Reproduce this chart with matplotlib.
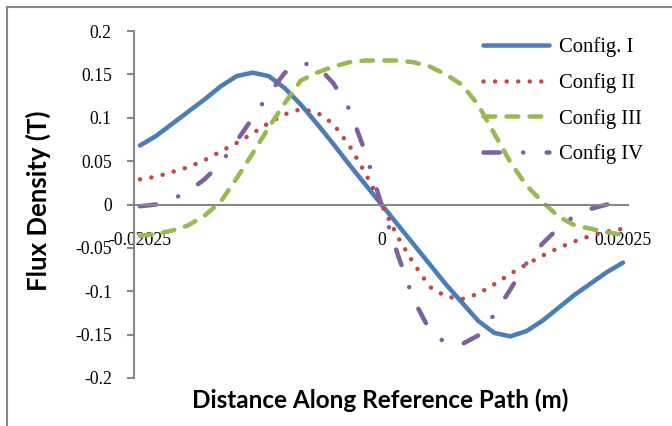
import matplotlib.pyplot as plt
from matplotlib.lines import Line2D

# distance along the reference path (m)
dist = [-0.02025, -0.0189, -0.01755, -0.0162, -0.01485, -0.0135, -0.01215,
        -0.0108, -0.00945, -0.0081, -0.00675, -0.0054, -0.00405, -0.0027,
        -0.00135, 0.0, 0.00135, 0.0027, 0.00405, 0.0054, 0.00675, 0.0081,
        0.00945, 0.0108, 0.01215, 0.0135, 0.01485, 0.0162, 0.01755, 0.0189,
        0.02025]

# flux density (T) for each configuration
cfg1 = [0.068, 0.079, 0.093, 0.107, 0.121, 0.136, 0.148, 0.152, 0.148, 0.134,
        0.115, 0.093, 0.070, 0.046, 0.023, 0.000, -0.023, -0.046, -0.069,
        -0.092, -0.113, -0.134, -0.148, -0.152, -0.146, -0.134, -0.119,
        -0.104, -0.091, -0.078, -0.067]
cfg2 = [0.029, 0.032, 0.0375, 0.043, 0.051, 0.061, 0.071, 0.082, 0.094, 0.104,
        0.110, 0.106, 0.093, 0.068, 0.036, 0.000, -0.037, -0.068, -0.095,
        -0.106, -0.109, -0.103, -0.092, -0.080, -0.069, -0.059, -0.050,
        -0.0425, -0.036, -0.031, -0.028]
cfg3 = [-0.036, -0.034, -0.030, -0.024, -0.013, 0.003, 0.030, 0.059, 0.089,
        0.117, 0.143, 0.152, 0.159, 0.164, 0.166, 0.166, 0.166, 0.164, 0.159,
        0.150, 0.138, 0.115, 0.082, 0.049, 0.022, 0.003, -0.014, -0.024,
        -0.028, -0.032, -0.035]
cfg4 = [-0.002, 0.000, 0.006, 0.015, 0.029, 0.047, 0.073, 0.100, 0.127, 0.152,
        0.163, 0.160, 0.140, 0.110, 0.060, 0.000, -0.057, -0.110, -0.145,
        -0.160, -0.161, -0.151, -0.127, -0.098, -0.068, -0.045, -0.027,
        -0.013, -0.005, 0.000, 0.001]

names = ['Config. I', 'Config II', 'Config III', 'Config IV']

yticks = [-0.2, -0.15, -0.1, -0.05, 0, 0.05, 0.1, 0.15, 0.2]
ytick_labels = ['-0.2', '-0.15', '-0.1', '-0.05', '0', '0.05', '0.1', '0.15', '0.2']
xticks = [-0.02025, 0, 0.02025]
xtick_labels = ['-0.02025', '0', '0.02025']

serif = 'Liberation Serif'
axis_gray = '#888888'

fig = plt.figure(figsize=(6.72, 4.26), dpi=100)
ax = fig.add_axes([134 / 672, 1 - 378 / 426, (628 - 134) / 672, (378 - 31) / 426])

lw = 3.25
styles = [
    dict(color='#4A7EBB', linestyle='-'),
    dict(color='#BE4B48', dashes=(0.01, 2.55)),
    dict(color='#98B954', dashes=(2.6, 2.5)),
    dict(color='#7D60A0', dashes=(3.6, 5.2, 0.01, 5.2)),
]
for ys, name, st in zip([cfg1, cfg2, cfg3, cfg4], names, styles):
    ax.plot(dist, ys, lw=lw, label=name, solid_capstyle='round',
            dash_capstyle='round', solid_joinstyle='round', **st)

ax.set_xlim(-0.02075, 0.02067)
ax.set_ylim(-0.2, 0.2)

for s in ['top', 'right']:
    ax.spines[s].set_visible(False)
ax.spines['bottom'].set_position(('data', 0))
for s in ['left', 'bottom']:
    ax.spines[s].set_color(axis_gray)
    ax.spines[s].set_linewidth(1.5)

ax.set_yticks(yticks)
ax.set_yticklabels(ytick_labels, fontfamily=serif, fontsize=12.7)
ax.set_xticks(xticks)
ax.set_xticklabels(xtick_labels, fontfamily=serif, fontsize=12.7)
ax.tick_params(axis='y', length=5, width=1.5, color=axis_gray, pad=11)
ax.tick_params(axis='x', length=0, pad=20)

fig.text(38 / 672, 1 - 201 / 426, 'Flux Density (T)', rotation=90,
         ha='center', va='center', fontfamily='Lato', fontweight='bold',
         fontsize=18.5)
fig.text(380 / 672, 1 - 400 / 426, 'Distance Along Reference Path (m)',
         ha='center', va='center', fontfamily='Lato', fontweight='bold',
         fontsize=17.5)

ax.legend(loc='upper left', bbox_to_anchor=(483 / 672, 1 - 37 / 426),
          bbox_transform=fig.transFigure, frameon=False, borderpad=0,
          borderaxespad=0, handlelength=3.2, handletextpad=0.48,
          labelspacing=0.77, prop={'family': serif, 'size': 14.9})

# chart area frame
fig.add_artist(Line2D([7 / 672, 7 / 672], [0, 1 - 7 / 426], color=axis_gray,
                      lw=1.5, transform=fig.transFigure))
fig.add_artist(Line2D([7 / 672, 1], [1 - 7 / 426, 1 - 7 / 426], color=axis_gray,
                      lw=1.5, transform=fig.transFigure))

fig.savefig('out.png', dpi=100)
